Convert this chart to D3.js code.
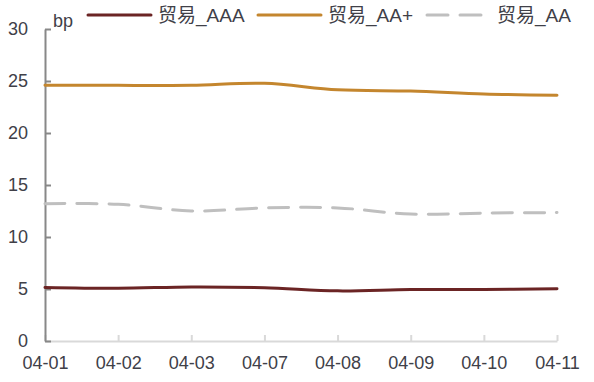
<!DOCTYPE html>
<html>
<head>
<meta charset="utf-8">
<script src="https://cdn.jsdelivr.net/npm/d3@7"></script>
<style>
  body { margin: 0; background: #fff; }
  text { font-family: "Liberation Sans", Arial, "Noto Sans CJK SC", sans-serif; }
</style>
</head>
<body>
<svg id="chart" width="594" height="382"></svg>
<script>
// categories (x axis)
var dates = ["04-01", "04-02", "04-03", "04-07", "04-08", "04-09", "04-10", "04-11"];
// series values, bp
var tradeAAA = [5.15, 5.07, 5.2, 5.12, 4.82, 4.95, 4.95, 5.03];
var tradeAAplus = [24.6, 24.58, 24.6, 24.78, 24.15, 24.03, 23.75, 23.62];
var tradeAA = [13.2, 13.15, 12.5, 12.8, 12.8, 12.2, 12.3, 12.35];
var yTicks = [0, 5, 10, 15, 20, 25, 30];
var seriesNames = ["贸易_AAA", "贸易_AA+", "贸易_AA"];

function drawChart(){
  var svg = d3.select("#chart");
  var textColor = "#404048";

  var x = d3.scalePoint()
    .domain(dates)
    .range([45, 557]);

  var y = d3.scaleLinear()
    .domain([0, 30])
    .range([341, 29]);

  // x axis - light gray, ticks pointing up
  var xAxis = svg.append("g")
    .attr("transform", "translate(0,341)")
    .call(d3.axisBottom(x).tickSize(-6).tickSizeOuter(0).tickPadding(15));
  xAxis.select(".domain").attr("stroke", "#d9d9d9").attr("stroke-width", 2);
  xAxis.selectAll(".tick line").attr("stroke", "#d9d9d9").attr("stroke-width", 2);
  xAxis.selectAll("text")
    .style("font-size", "18px")
    .attr("fill", textColor);

  // y axis - gray, ticks pointing right
  var yAxis = svg.append("g")
    .attr("transform", "translate(45,0)")
    .call(d3.axisLeft(y).tickValues(yTicks).tickSize(-6).tickSizeOuter(0).tickPadding(17));
  yAxis.select(".domain").attr("stroke", "#888").attr("stroke-width", 2);
  yAxis.selectAll(".tick line").attr("stroke", "#888").attr("stroke-width", 2);
  yAxis.selectAll("text")
    .style("font-size", "18px")
    .attr("fill", textColor);

  svg.append("text")
    .text("bp")
    .attr("x", 53)
    .attr("y", 27)
    .style("font-size", "18px")
    .attr("fill", textColor);

  var series = [
    {name: seriesNames[0], values: tradeAAA, color: "#6b2424", dash: null},
    {name: seriesNames[1], values: tradeAAplus, color: "#c4862e", dash: null},
    {name: seriesNames[2], values: tradeAA, color: "#bfbfbf", dash: "20,12"}
  ];

  var line = d3.line()
    .x(function(d, i) { return x(dates[i]); })
    .y(function(d) { return y(d); })
    .curve(d3.curveCatmullRom.alpha(0.5));

  svg.append("g")
    .selectAll("path")
    .data(series)
    .enter()
    .append("path")
      .attr("d", function(d) { return line(d.values); })
      .attr("fill", "none")
      .attr("stroke", function(d) { return d.color; })
      .attr("stroke-width", 3)
      .attr("stroke-linecap", "round")
      .attr("stroke-dasharray", function(d) { return d.dash; });

  // legend
  var legendX = [88, 258, 427];
  var legend = svg.append("g")
    .selectAll("g")
    .data(series)
    .enter()
    .append("g")
      .attr("transform", function(d, i) { return "translate(" + legendX[i] + ",15)"; });

  legend.append("line")
    .attr("x1", 0)
    .attr("x2", function(d) { return d.dash ? 56 : 63; })
    .attr("y1", 0)
    .attr("y2", 0)
    .attr("stroke", function(d) { return d.color; })
    .attr("stroke-width", 3)
    .attr("stroke-linecap", "round")
    .attr("stroke-dasharray", function(d) { return d.dash ? "21,12" : null; });

  legend.append("text")
    .text(function(d) { return d.name; })
    .attr("x", 70)
    .attr("y", 0)
    .attr("dy", "0.35em")
    .style("font-size", "19px")
    .attr("fill", textColor);
}

drawChart();
</script>
</body>
</html>
